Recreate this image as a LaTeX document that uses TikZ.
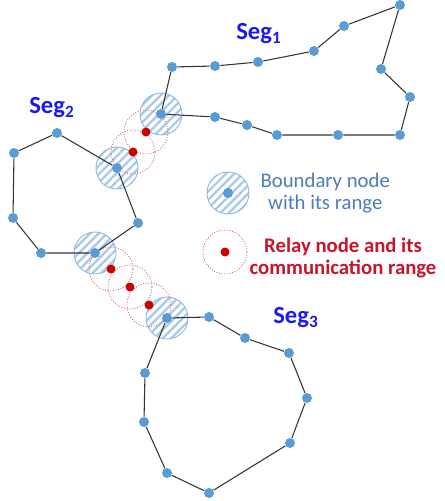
\documentclass[tikz,border=0pt]{standalone}
\usepackage{fontspec}
\setmainfont{Carlito}
\usetikzlibrary{positioning,patterns.meta}

\definecolor{azulnodo}{HTML}{5B9BD5}
\definecolor{azulrango}{HTML}{A9C9E8}
\definecolor{bordeRango}{HTML}{8DB6E0}
\definecolor{azultexto}{HTML}{4A7DBA}
\definecolor{rojorelevo}{HTML}{CC0000}
\definecolor{rojorango}{HTML}{D9606A}
\definecolor{rojotexto}{HTML}{C8142A}
\definecolor{azulseg}{HTML}{1A1AF0}

\begin{document}
\begin{tikzpicture}[x=0.02cm, y=-0.02cm,
  nodo/.style={circle, fill=azulnodo, inner sep=0pt, minimum size=0.2cm},
  relevo/.style={circle, fill=rojorelevo, inner sep=0pt, minimum size=0.18cm},
  rango/.style={circle, draw=bordeRango, line width=0.5pt, inner sep=0pt, minimum size=0.84cm,
    pattern={Lines[angle=45, distance=3.4pt, line width=1.3pt]}, pattern color=azulrango},
  alcance/.style={circle, draw=rojorango, densely dotted, line width=0.5pt, inner sep=0pt, minimum size=0.88cm},
  enlace/.style={draw=black!80, line width=0.6pt},
  segmento/.style={font=\fontsize{14}{16}\selectfont\bfseries, text=azulseg},
  leyenda/.style={align=center, font=\fontsize{11.8}{12.5}\selectfont}
]
\useasboundingbox (0,0) rectangle (444,501);

% rangos de los nodos frontera
\foreach \n/\x/\y in {1/161/114, 2/117/168, 3/95/253, 4/167/318}
  \node[rango] (rb\n) at (\x,\y) {};
% rangos de los nodos de relevo
\foreach \n/\x/\y in {1/146/132, 2/133/152, 3/111/269, 4/130/287, 5/149/305}
  \node[alcance] (ra\n) at (\x,\y) {};

% nodos frontera y de relevo
\foreach \n in {1,...,4}
  \node[nodo] (b\n) at (rb\n) {};
\foreach \n in {1,...,5}
  \node[relevo] (r\n) at (ra\n) {};

% segmento 1
\foreach \n/\x/\y in {1/172/67, 2/215/66, 3/258/62, 4/314/51, 5/344/26, 6/400/5,
  7/381/69, 8/410/97, 9/400/135, 10/338/135, 11/277/135, 12/247/125, 13/215/117}
  \node[nodo] (s1-\n) at (\x,\y) {};
% segmento 2
\foreach \n/\x/\y in {1/138/223, 2/41/253, 3/13/218, 4/14/153, 5/57/133}
  \node[nodo] (s2-\n) at (\x,\y) {};
% segmento 3
\foreach \n/\x/\y in {1/209/317, 2/245/338, 3/289/353, 4/307/398, 5/290/443,
  6/209/493, 7/167/473, 8/144/422, 9/145/373}
  \node[nodo] (s3-\n) at (\x,\y) {};

\draw[enlace] (b1) -- (s1-1) -- (s1-2) -- (s1-3) -- (s1-4) -- (s1-5) -- (s1-6) -- (s1-7)
  -- (s1-8) -- (s1-9) -- (s1-10) -- (s1-11) -- (s1-12) -- (s1-13) -- (b1);
\draw[enlace] (b2) -- (s2-1) -- (b3) -- (s2-2) -- (s2-3) -- (s2-4) -- (s2-5) -- (b2);
\draw[enlace] (b4) -- (s3-1) -- (s3-2) -- (s3-3) -- (s3-4) -- (s3-5) -- (s3-6) -- (s3-7)
  -- (s3-8) -- (s3-9) -- (b4);

\node[segmento] (seg1) at (259,34) {Seg$_{\mathbf{1}}$};
\node[segmento] (seg2) at (52,108) {Seg$_{\mathbf{2}}$};
\node[segmento] (seg3) at (296,318) {Seg$_{\mathbf{3}}$};

% leyenda
\node[rango] (lb) at (228,193) {};
\node[nodo] (lbn) at (lb) {};
\node[leyenda, text=azultexto, right=0.1cm of lb] (tb) {Boundary node\\with its range};
\node[alcance] (lr) at (225,252) {};
\node[relevo] (lrn) at (lr) {};
\node[leyenda, text=rojotexto, font=\fontsize{11.8}{12.5}\selectfont\bfseries] (tr) at (343,258)
  {Relay node and its\\communication range};
\end{tikzpicture}
\end{document}
